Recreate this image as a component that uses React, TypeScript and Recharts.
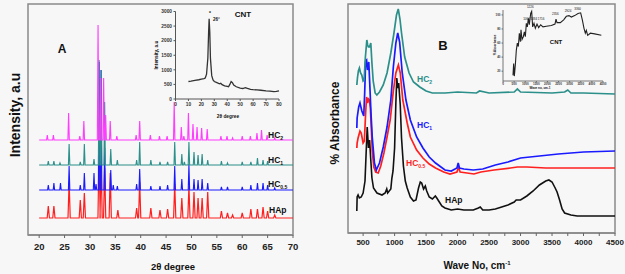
import React from "react"
import { LineChart, Line, XAxis, YAxis, ReferenceArea } from "recharts"

// ---- panel A : XRD (2θ, peak height above each trace's baseline) ----
const xrdTicks = [20, 25, 30, 35, 40, 45, 50, 55, 60, 65, 70]

const hapBase = 17
const hapPeaks = [
  [21.8, 12], [22.9, 12], [25.9, 36], [28.1, 18], [28.9, 25], [31.8, 70], [32.2, 56],
  [32.9, 50], [34.0, 45], [35.5, 8], [39.2, 10], [39.8, 36], [42.0, 10], [43.8, 8],
  [45.3, 9], [46.7, 34], [48.1, 20], [49.5, 32], [50.5, 26], [51.3, 20], [52.1, 20],
  [53.2, 26], [55.9, 7], [57.1, 5], [58.1, 3], [60.0, 5], [61.7, 9], [63.0, 9],
  [64.1, 11], [65.0, 7], [66.4, 3],
]

const hc05Base = 45
const hc05Peaks = [
  [21.8, 5], [22.9, 7], [24.2, 7], [25.9, 24], [28.1, 5], [28.9, 17], [30.8, 17],
  [31.2, 6], [31.8, 128], [32.2, 120], [32.9, 42], [34.1, 20], [34.6, 5], [35.4, 4],
  [39.2, 6], [39.8, 21], [42.0, 4], [43.8, 4], [45.3, 5], [46.7, 24], [48.1, 11],
  [49.5, 26], [50.5, 11], [51.3, 10], [52.1, 11], [53.2, 7], [55.9, 3], [57.1, 3],
  [60.0, 3], [61.7, 5], [63.0, 7], [64.1, 7], [65.0, 5], [66.4, 2],
]

const hc1Base = 70
const hc1Peaks = [
  [21.8, 4], [22.9, 4], [24.1, 2], [25.9, 21], [28.1, 3], [28.9, 21], [30.8, 6],
  [31.8, 105], [32.2, 95], [32.9, 63], [34.1, 16], [35.4, 5], [39.2, 5], [39.8, 23],
  [42.0, 5], [43.8, 3], [45.3, 3], [46.7, 23], [48.1, 11], [48.6, 3], [49.5, 23],
  [50.5, 13], [51.3, 10], [52.1, 11], [53.2, 5], [55.9, 4], [57.1, 2], [60.0, 3],
  [61.7, 3], [63.0, 7], [64.1, 5], [65.0, 4],
]

const hc2Base = 95
const hc2Peaks = [
  [21.6, 5], [22.8, 5], [25.8, 27], [28.0, 4], [28.8, 19], [31.6, 115], [32.1, 62],
  [32.7, 62], [33.1, 25], [34.0, 19], [35.3, 4], [39.1, 5], [39.8, 19], [41.9, 5],
  [43.7, 4], [45.2, 4], [46.6, 38], [48.0, 13], [48.5, 4], [49.4, 27], [50.3, 16],
  [51.1, 13], [52.0, 12], [53.1, 11], [55.8, 4], [57.0, 4], [58.1, 2], [60.0, 4],
  [61.6, 4], [62.9, 7], [63.8, 10], [64.9, 5], [66.4, 2],
]

// inset A : CNT XRD
const cntXrdTicksX = [0, 10, 20, 30, 40, 50, 60, 70, 80]
const cntXrdTicksY = [0, 500, 1000, 1500, 2000, 2500, 3000]
const cntXrd = [
  [10, 600], [12, 610], [15, 640], [18, 660], [20, 680], [22, 700], [23, 720], [24, 850],
  [25, 1400], [25.6, 2300], [26, 2750], [26.5, 2300], [27, 1400], [28, 800], [29, 650],
  [30, 600], [32, 560], [34, 520], [35, 540], [36, 490], [38, 450], [40, 430], [41, 420],
  [42, 500], [43, 600], [44, 560], [45, 480], [47, 420], [50, 370], [52, 360], [54, 390],
  [55, 370], [58, 330], [60, 320], [63, 310], [66, 300], [70, 280], [73, 270], [76, 250],
  [78, 260], [80, 280],
]

// ---- panel B : FTIR (wave number, absorbance) ----
const ftTicks = [500, 750, 1000, 1250, 1500, 1750, 2000, 2250, 2500, 2750, 3000, 3250, 3500, 3750, 4000, 4250, 4500]

const ftHap = [
  [400, 22], [405, 36], [420, 38], [440, 35], [470, 36], [500, 40], [530, 52], [548, 80],
  [565, 106], [585, 85], [603, 93], [620, 75], [640, 55], [665, 45], [720, 40], [800, 38],
  [850, 40], [875, 44], [890, 40], [940, 44], [957, 55], [975, 62], [1000, 85], [1020, 130],
  [1035, 155], [1050, 145], [1065, 150], [1090, 128], [1110, 95], [1140, 67], [1170, 52],
  [1200, 45], [1250, 36], [1300, 32], [1340, 33], [1380, 45], [1408, 51], [1430, 50],
  [1460, 44], [1488, 47], [1510, 42], [1550, 36], [1600, 34], [1647, 37], [1670, 35],
  [1700, 32], [1750, 27], [1800, 25], [1900, 23], [2000, 24], [2100, 23], [2250, 23],
  [2330, 25], [2360, 26], [2400, 23], [2500, 23], [2600, 24], [2700, 26], [2800, 28],
  [2900, 31], [2930, 33], [3000, 33], [3100, 37], [3200, 42], [3300, 48], [3400, 52],
  [3450, 53], [3500, 51], [3550, 45], [3580, 41], [3620, 33], [3660, 24], [3700, 20],
  [3800, 18], [3900, 17], [4000, 17], [4500, 17],
]

const ftHc05 = [
  [400, 85], [405, 90], [420, 95], [450, 102], [470, 100], [500, 90], [520, 92], [540, 120],
  [555, 136], [570, 130], [585, 134], [600, 133], [615, 125], [630, 105], [645, 82],
  [670, 66], [700, 61], [740, 60], [780, 67], [830, 80], [880, 96], [930, 113], [980, 142],
  [1020, 160], [1060, 168], [1090, 160], [1130, 133], [1200, 110], [1250, 96], [1350, 83],
  [1450, 75], [1550, 69], [1650, 65], [1780, 61], [1880, 59], [1990, 61], [2015, 66],
  [2040, 61], [2150, 60], [2260, 59], [2370, 61], [2580, 63], [2840, 65], [2950, 66],
  [3100, 66], [3400, 65], [4000, 65], [4500, 65],
]

const ftHc1 = [
  [400, 105], [405, 115], [430, 126], [450, 130], [480, 122], [510, 117], [525, 140],
  [540, 172], [555, 173], [570, 163], [590, 171], [605, 150], [625, 120], [645, 96],
  [680, 70], [710, 63], [760, 70], [820, 86], [880, 106], [940, 133], [980, 166],
  [1020, 190], [1050, 200], [1080, 191], [1120, 161], [1180, 133], [1250, 113], [1350, 96],
  [1450, 85], [1550, 76], [1650, 70], [1800, 63], [1900, 62], [1990, 65], [2010, 70],
  [2030, 65], [2100, 64], [2250, 63], [2400, 64], [2600, 68], [2800, 71], [3000, 75],
  [3300, 77], [3600, 79], [4000, 81], [4500, 82],
]

const ftHc2 = [
  [400, 148], [410, 155], [425, 162], [441, 165], [460, 160], [479, 158], [500, 152],
  [516, 153], [535, 175], [559, 193], [572, 188], [585, 186], [601, 186], [622, 190],
  [640, 170], [660, 152], [691, 140], [718, 138], [760, 141], [820, 148], [880, 160],
  [940, 180], [990, 200], [1030, 218], [1058, 224], [1085, 214], [1110, 200], [1160, 176],
  [1230, 160], [1300, 151], [1400, 146], [1500, 142], [1600, 140], [1800, 140], [2000, 141],
  [2300, 140], [2350, 142], [2500, 140], [2900, 141], [2950, 144], [3000, 141], [3500, 140],
  [3700, 141], [3750, 143], [3800, 140], [4000, 140], [4500, 139],
]

// inset B : CNT FTIR
const cntFtTicksX = [0, 500, 1000, 1500, 2000, 2500, 3000, 3500, 4000, 4500]
const cntFtTicksY = [20, 40, 60, 80, 100]
const cntFt = [
  [450, 14], [480, 31], [510, 13], [555, 29], [600, 50], [645, 60], [690, 55], [735, 74],
  [780, 62], [810, 79], [855, 65], [915, 69], [960, 76], [1005, 69], [1050, 88], [1095, 83],
  [1140, 95], [1185, 86], [1245, 102], [1290, 105], [1335, 83], [1395, 88], [1455, 81],
  [1530, 87], [1605, 82], [1695, 86], [1800, 83], [1950, 84], [2175, 85], [2340, 87],
  [2385, 94], [2430, 89], [2580, 89], [2730, 93], [2850, 98], [2970, 99], [3075, 97],
  [3225, 99], [3375, 102], [3495, 103], [3570, 93], [3645, 81], [3705, 74], [3750, 78],
  [3810, 71], [3930, 74], [4125, 73], [4425, 71],
]
const cntFtPeakLabels = [
  [1060, 90, "1060"], [1226, 107, "1226"], [1384, 90, "1384"], [1716, 90, "1716"],
  [2356, 97, "2356"], [2924, 101, "2924"], [3360, 104, "3360"],
]

const COLORS = {
  hap: "#ff1f1f",
  hc05: "#1a1aff",
  hc1: "#2b8f8a",
  hc2: "#ff3cff",
  black: "#111111",
}

function pattern(base: number, peaks: number[][], half: number) {
  const pts = [{ x: 20, y: base }]
  peaks.forEach(([p, h]) => {
    pts.push({ x: p - half, y: base }, { x: p, y: base + h }, { x: p + half, y: base })
  })
  pts.push({ x: 70, y: base })
  return pts
}

const toXY = (arr: number[][]) => arr.map(([x, y]) => ({ x, y }))

function Note({ x, y, size, color = "#111", bold = false, center = false, rotate = false, children }: any) {
  const t = rotate
    ? "translate(-50%, -50%) rotate(-90deg)"
    : center
    ? "translate(-50%, -50%)"
    : "translateY(-50%)"
  return (
    <div
      style={{
        position: "absolute",
        left: x,
        top: y,
        fontSize: size,
        color,
        fontWeight: bold ? 700 : 400,
        lineHeight: 1,
        whiteSpace: "nowrap",
        transform: t,
      }}
    >
      {children}
    </div>
  )
}

const Sub = ({ children }: any) => (
  <span style={{ fontSize: "0.6em", position: "relative", top: "0.35em" }}>{children}</span>
)

const tickA = { fontSize: 9.5, fontWeight: 700, fill: "#222" }
const tickB = { fontSize: 8, fontWeight: 700, fill: "#222" }
const tinyTick = (s: number) => ({ fontSize: s, fontWeight: 700, fill: "#333" })

export default function App() {
  return (
    <div
      style={{
        position: "absolute",
        left: 0,
        top: 0,
        width: 625,
        height: 274,
        background: "#f7f7f7",
        fontFamily: '"Liberation Sans", Arial, sans-serif',
        overflow: "hidden",
      }}
    >
      {/* panel A */}
      <LineChart
        width={300}
        height={274}
        margin={{ top: 4, right: 7, left: 28, bottom: 0 }}
        style={{ position: "absolute", left: 0, top: 0 }}
      >
        <XAxis
          type="number"
          dataKey="x"
          domain={[17.8, 70]}
          ticks={xrdTicks}
          allowDataOverflow
          height={39}
          tick={tickA}
          tickSize={3}
          tickMargin={5}
          axisLine={{ stroke: "#888", strokeWidth: 1.5 }}
          tickLine={{ stroke: "#666" }}
        />
        <YAxis type="number" dataKey="y" domain={[0, 231]} hide allowDataOverflow />
        <ReferenceArea x1={17.8} x2={70} y1={0} y2={231} fill="none" stroke="#8a8a8a" strokeWidth={1.5} />
        <Line data={pattern(hapBase, hapPeaks, 0.22)} dataKey="y" stroke={COLORS.hap} strokeWidth={1.2} dot={false} isAnimationActive={false} />
        <Line data={pattern(hc05Base, hc05Peaks, 0.14)} dataKey="y" stroke={COLORS.hc05} strokeWidth={1.1} dot={false} isAnimationActive={false} />
        <Line data={pattern(hc1Base, hc1Peaks, 0.14)} dataKey="y" stroke={COLORS.hc1} strokeWidth={1.1} dot={false} isAnimationActive={false} />
        <Line data={pattern(hc2Base, hc2Peaks, 0.14)} dataKey="y" stroke={COLORS.hc2} strokeWidth={1.1} dot={false} isAnimationActive={false} />
      </LineChart>

      {/* inset A */}
      <LineChart
        width={145}
        height={125}
        margin={{ top: 11.5, right: 6, left: 0, bottom: 0 }}
        style={{ position: "absolute", left: 140, top: 0 }}
      >
        <XAxis
          type="number"
          dataKey="x"
          domain={[0, 80]}
          ticks={cntXrdTicksX}
          interval={0}
          height={26}
          tick={tinyTick(4.8)}
          tickSize={2}
          tickMargin={1.5}
          axisLine={{ stroke: "#555" }}
          tickLine={{ stroke: "#555" }}
        />
        <YAxis
          type="number"
          dataKey="y"
          domain={[0, 3000]}
          ticks={cntXrdTicksY}
          interval={0}
          width={35.5}
          tick={tinyTick(4.8)}
          tickSize={2}
          tickMargin={1.5}
          axisLine={{ stroke: "#555" }}
          tickLine={{ stroke: "#555" }}
        />
        <Line data={toXY(cntXrd)} dataKey="y" stroke="#333" strokeWidth={1.3} dot={false} isAnimationActive={false} />
      </LineChart>

      {/* panel B */}
      <LineChart
        width={325}
        height={274}
        margin={{ top: 4, right: 10, left: 48, bottom: 0 }}
        style={{ position: "absolute", left: 300, top: 0 }}
      >
        <XAxis
          type="number"
          dataKey="x"
          domain={[260, 4500]}
          ticks={ftTicks}
          interval={0}
          allowDataOverflow
          height={41}
          tick={tickB}
          tickSize={3}
          tickMargin={3}
          tickFormatter={(v: number) => (v % 500 === 0 ? String(v) : "")}
          axisLine={{ stroke: "#888", strokeWidth: 1.5 }}
          tickLine={{ stroke: "#666" }}
        />
        <YAxis type="number" dataKey="y" domain={[0, 229]} hide allowDataOverflow />
        <ReferenceArea x1={260} x2={4500} y1={0} y2={229} fill="none" stroke="#8a8a8a" strokeWidth={1.5} />
        <Line data={toXY(ftHap)} dataKey="y" stroke={COLORS.black} strokeWidth={1.6} dot={false} isAnimationActive={false} />
        <Line data={toXY(ftHc05)} dataKey="y" stroke={COLORS.hap} strokeWidth={1.7} dot={false} isAnimationActive={false} />
        <Line data={toXY(ftHc1)} dataKey="y" stroke={COLORS.hc05} strokeWidth={1.7} dot={false} isAnimationActive={false} />
        <Line data={toXY(ftHc2)} dataKey="y" stroke={COLORS.hc1} strokeWidth={1.7} dot={false} isAnimationActive={false} />
      </LineChart>

      {/* inset B */}
      <LineChart
        width={140}
        height={95}
        margin={{ top: 10, right: 7, left: 0, bottom: 0 }}
        style={{ position: "absolute", left: 470, top: 0 }}
      >
        <XAxis
          type="number"
          dataKey="x"
          domain={[0, 4500]}
          ticks={cntFtTicksX}
          interval={0}
          height={14}
          tick={tinyTick(3)}
          tickSize={1.5}
          tickMargin={0.5}
          axisLine={{ stroke: "#555", strokeWidth: 0.8 }}
          tickLine={{ stroke: "#555", strokeWidth: 0.8 }}
        />
        <YAxis
          type="number"
          dataKey="y"
          domain={[6, 107]}
          ticks={cntFtTicksY}
          interval={0}
          width={33}
          tick={tinyTick(3)}
          tickSize={1.5}
          tickMargin={1}
          axisLine={{ stroke: "#555", strokeWidth: 0.8 }}
          tickLine={{ stroke: "#555", strokeWidth: 0.8 }}
        />
        <Line data={toXY(cntFt)} dataKey="y" stroke="#222" strokeWidth={1.1} dot={false} isAnimationActive={false} />
      </LineChart>

      {/* panel A texts */}
      <Note x={15} y={115} size={14} bold rotate>Intensity, a.u</Note>
      <Note x={173} y={267} size={9.5} bold center>2θ degree</Note>
      <Note x={62} y={49} size={12} bold center>A</Note>
      <Note x={268} y={135} size={8.5} bold>HC<Sub>2</Sub></Note>
      <Note x={268} y={160} size={8.5} bold>HC<Sub>1</Sub></Note>
      <Note x={268} y={184} size={8.5} bold>HC<Sub>0.5</Sub></Note>
      <Note x={269} y={210} size={8.5} bold>HAp</Note>
      {/* inset A texts */}
      <Note x={157} y={55} size={4.8} bold rotate>Intensity, a.u</Note>
      <Note x={228} y={117} size={4.8} bold center>2θ degree</Note>
      <Note x={243} y={15} size={8} bold center>CNT</Note>
      <Note x={210} y={13} size={5} bold center>*</Note>
      <Note x={213} y={20} size={4.5} bold>26°</Note>

      {/* panel B texts */}
      <Note x={335} y={123} size={12} bold rotate>% Absorbance</Note>
      <Note x={477} y={266} size={10} bold center>
        Wave No, cm<span style={{ fontSize: "0.6em", position: "relative", top: "-0.6em" }}>-1</span>
      </Note>
      <Note x={443} y={45} size={13} bold center>B</Note>
      <Note x={417} y={79} size={8.5} bold color={COLORS.hc1}>HC<Sub>2</Sub></Note>
      <Note x={417} y={125} size={8.5} bold color={COLORS.hc05}>HC<Sub>1</Sub></Note>
      <Note x={406} y={163} size={8.5} bold color={COLORS.hap}>HC<Sub>0.5</Sub></Note>
      <Note x={445} y={200} size={8.5} bold>HAp</Note>
      {/* inset B texts */}
      <Note x={495} y={45} size={3} bold rotate>% Absorbance</Note>
      <Note x={540} y={88} size={3} bold center>Wave no, cm-1</Note>
      <Note x={556} y={42} size={6} bold center>CNT</Note>
      {cntFtPeakLabels.map(([w, v, s]) => (
        <Note
          key={s as string}
          x={503 + ((w as number) / 4500) * 100}
          y={81 - (((v as number) - 6) / 101) * 71 - 3}
          size={3}
          center
        >
          {s}
        </Note>
      ))}
    </div>
  )
}
